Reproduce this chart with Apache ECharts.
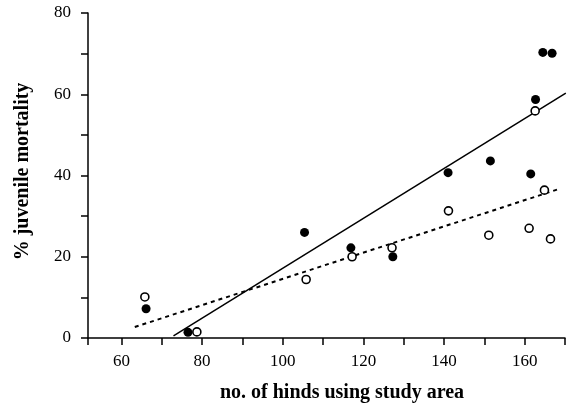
<!DOCTYPE html>
<html><head><meta charset="utf-8">
<script src="https://cdn.jsdelivr.net/npm/echarts@6/dist/echarts.min.js"></script>
<style>html,body{margin:0;padding:0;background:#fff}#c{width:572px;height:408px}</style>
</head><body><div id="c"></div>
<script>
// Data
var filledPoints = [[66.1,7.2],[76.5,1.4],[105.4,26.0],[116.9,22.2],[127.3,20.0],[141.0,40.7],[151.5,43.6],[161.5,40.4],[162.7,58.7],[164.5,70.3],[166.8,70.1]];
var openPoints = [[65.8,10.1],[78.7,1.5],[105.8,14.4],[117.2,20.0],[127.1,22.2],[141.1,31.3],[151.1,25.3],[161.1,27.0],[166.4,24.4],[162.6,55.9],[164.9,36.4]];
var solidFit = [[72.9,0.5],[170.2,60.3]];
var dottedFit = [[63.3,2.7],[168.9,36.8]];
var xTicks = [51.7,60,70,80,90,100,110,120,130,140,150,160,170];
var xLabels = [60,80,100,120,140,160];
var yTicks = [0,10,20,30,40,50,60,70,80];
var yLabels = [0,20,40,60,80];

var font = 'Liberation Serif';
var chart = echarts.init(document.getElementById('c'), null, {renderer:'canvas'});
chart.setOption({
  animation:false,
  backgroundColor:'#fff',
  grid:{left:88,right:7,top:13,bottom:70},
  xAxis:{
    type:'value', min:51.7, max:170,
    name:'no. of hinds using study area', nameLocation:'middle', nameGap:45,
    nameTextStyle:{fontFamily:font,fontSize:20,fontWeight:'bold',color:'#000',padding:[0,0,0,31]},
    axisLine:{show:true,onZero:false,lineStyle:{color:'#000',width:1.5}},
    axisTick:{show:true,length:7,lineStyle:{color:'#000',width:1.5},customValues:xTicks},
    axisLabel:{fontFamily:font,fontSize:17,color:'#000',margin:15,customValues:xLabels},
    splitLine:{show:false}
  },
  yAxis:{
    type:'value', min:0, max:80,
    name:'% juvenile mortality', nameLocation:'middle', nameGap:55,
    nameTextStyle:{fontFamily:font,fontSize:20,fontWeight:'bold',color:'#000',padding:[0,0,0,8]},
    axisLine:{show:true,onZero:false,lineStyle:{color:'#000',width:1.5}},
    axisTick:{show:true,length:7,lineStyle:{color:'#000',width:1.5},customValues:yTicks},
    axisLabel:{fontFamily:font,fontSize:17,color:'#000',margin:17,customValues:yLabels},
    splitLine:{show:false}
  },
  series:[
    {type:'line',data:solidFit,symbol:'none',lineStyle:{color:'#000',width:1.5},z:2},
    {type:'line',data:dottedFit,symbol:'none',lineStyle:{color:'#000',width:2,type:[4,4]},z:2},
    {type:'scatter',data:filledPoints,symbol:'circle',symbolSize:9,itemStyle:{color:'#000',opacity:1},z:3},
    {type:'scatter',data:openPoints,symbol:'circle',symbolSize:8,itemStyle:{color:'#fff',borderColor:'#000',borderWidth:1.6,opacity:1},z:4}
  ]
});
</script>
</body></html>
